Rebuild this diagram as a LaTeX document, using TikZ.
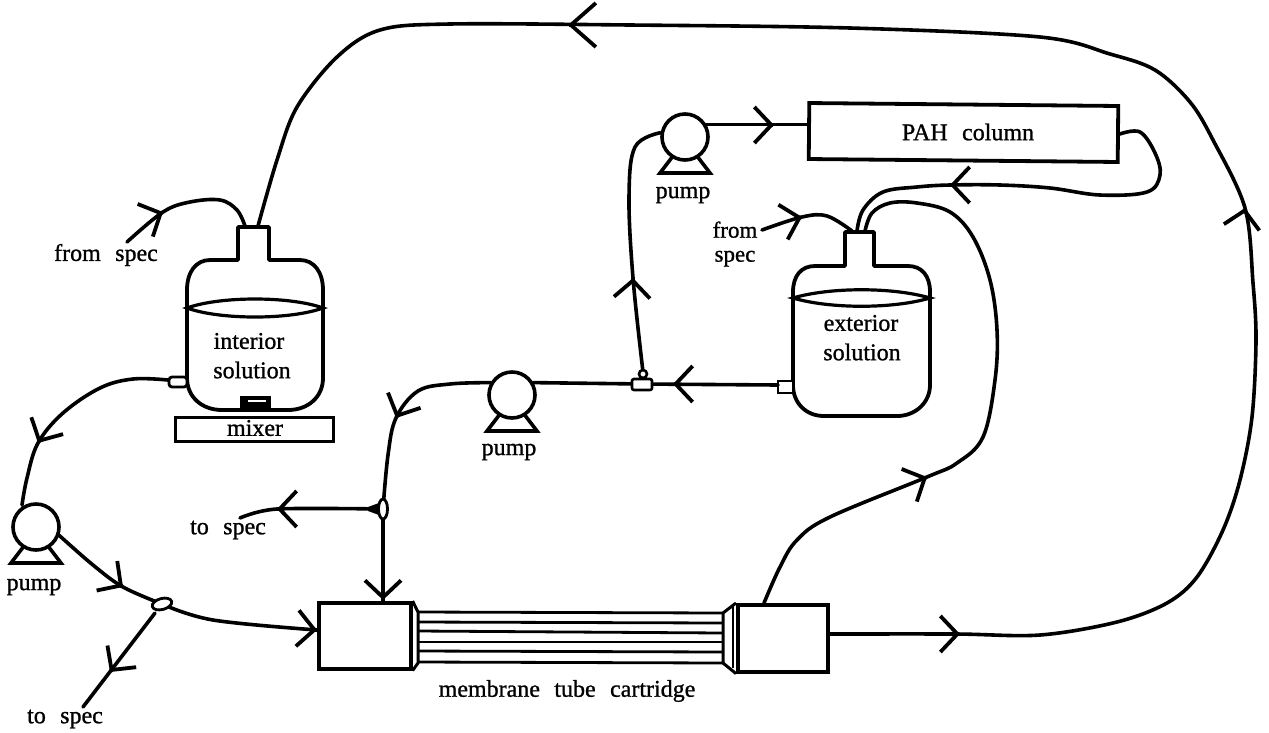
\documentclass[tikz,border=0pt]{standalone}
\usepackage{fontspec}
\setmainfont{Liberation Serif}
\newfontfamily\lblfont[FakeBold=1]{Liberation Serif}
\usetikzlibrary{arrows.meta,calc}
\tikzset{
  wire/.style={line width=3.6pt,line cap=round,line join=round},
  vessel/.style={line width=3.8pt,line join=round,fill=white},
  thinline/.style={line width=2.8pt},
  barbtip/.style={line width=3.8pt,-{Straight Barb[length=17pt,width=36pt,line width=3.8pt]}},
  barbbig/.style={line width=3.8pt,-{Straight Barb[length=25pt,width=44pt,line width=3.8pt]}},
  lbl/.style={font=\lblfont\fontsize{24}{26}\selectfont,inner sep=0pt,align=center},
  pumpbody/.style={circle,draw,line width=3.6pt,fill=white,minimum size=#1,inner sep=0pt}
}
\newcommand{\barbat}[2]{\draw[barbtip] (#1) ++(#2:-1) -- (#1);}
\newcommand{\pumpfeet}[1]{\draw[line width=3.6pt,line join=miter] ($(#1)+(-12,19)$) -- ($(#1)+(-25,36)$) -- ($(#1)+(25,36)$) -- ($(#1)+(12,19)$);}
\begin{document}
\begin{tikzpicture}[x=1pt,y=-1pt]
\useasboundingbox (0,0) rectangle (1269,732);
\fill[white] (0,0) rectangle (1269,732);

% named end points
\coordinate (neckA) at (258,226);
\coordinate (neckAl) at (245,226);
\coordinate (neckB) at (852,231);
\coordinate (neckBm) at (857,231);
\coordinate (neckBr) at (865,231);
\coordinate (fromA) at (127,242);
\coordinate (fromB) at (762,230);
\coordinate (toA) at (240,518);
\coordinate (toB) at (83,707);
\coordinate (portA) at (168,380);
\coordinate (portB) at (778,385);
\coordinate (teeB) at (642,384);
\coordinate (teeC) at (383,509);
\coordinate (teeD) at (162,604);

% pumps
\node[pumpbody=46pt] (pumpA) at (36,527) {};
\node[pumpbody=46pt] (pumpB) at (685,137) {};
\node[pumpbody=46pt] (pumpC) at (512,395) {};
\pumpfeet{pumpA}\pumpfeet{pumpB}\pumpfeet{pumpC}

% column
\node[draw,line width=3.8pt,minimum width=309pt,minimum height=56pt,inner sep=0pt,rotate=-0.55] (column) at (963.5,132.5) {};
\node[lbl] (columnlbl) at (968,132) {PAH\hspace{0.6em}column};

% cartridge
\node[draw,line width=3.6pt,minimum width=92pt,minimum height=66pt,inner sep=0pt,anchor=north west] (cartL) at (317,601) {};
\node[draw,line width=3.6pt,minimum width=90pt,minimum height=67pt,inner sep=0pt,anchor=north west] (cartR) at (736,603) {};
\draw[line width=3pt,line join=round] (cartL.north east) -- (418,612) -- (418,663) -- (cartL.south east);
\draw[line width=3pt,line join=round] (cartR.north west) -- (723,613) -- (723,663) -- (cartR.south west);
\draw[line width=2.6pt] (733,606) -- (733,668);
\foreach \ya/\yb in {612/613,622/623,631/633,642/642,651/652,662/663}
  \draw[thinline] (418,\ya) -- (723,\yb);
\node[lbl] (cartlbl) at (567,691) {membrane\hspace{0.6em}tube\hspace{0.6em}cartridge};

% interior bottle
\draw[vessel] (238,227) -- (269,227) -- (269,260) -- (300,260)
  .. controls (314,260) and (323,272) .. (323,290) -- (323,378)
  .. controls (323,397) and (308,410) .. (288,410) -- (222,410)
  .. controls (202,410) and (187,397) .. (187,378) -- (187,290)
  .. controls (187,272) and (196,260) .. (210,260) -- (238,260) -- cycle;
\draw[line width=3.2pt] (187,308) .. controls (220,296) and (290,296) .. (323,308) .. controls (290,320) and (220,320) .. cycle;
\fill (240,396) rectangle (271,409);
\draw[white,line width=1.3pt] (248,401) -- (266,401);
\node[lbl] (intA) at (249,341) {interior};
\node[lbl] (intB) at (252,370) {solution};
\node[draw,line width=3.2pt,minimum width=158pt,minimum height=24pt,inner sep=0pt,anchor=north west] (mixer) at (174,416) {};
\node[lbl] (mixerlbl) at (255,428) {mixer};
\draw[line width=2.8pt,fill=white,rounded corners=3pt] (169,377) rectangle (187,387);

% exterior bottle
\draw[vessel] (845,232) -- (874,232) -- (874,266) -- (908,266)
  .. controls (922,266) and (930,276) .. (930,292) -- (930,385)
  .. controls (930,403) and (915,416) .. (897,416) -- (824,416)
  .. controls (806,416) and (793,403) .. (793,385) -- (793,292)
  .. controls (793,276) and (801,266) .. (815,266) -- (845,266) -- cycle;
\draw[line width=3.2pt] (793,298) .. controls (830,287) and (893,287) .. (930,298) .. controls (893,309) and (830,309) .. cycle;
\node[lbl] (extA) at (861,323) {exterior};
\node[lbl] (extB) at (862,352) {solution};
\draw[line width=2.8pt,fill=white] (778,381) rectangle (793,393);

% wires
\draw[wire] plot[smooth,tension=0.55] coordinates {(cartR.east |- 0,634) (955,634) (1040,635) (1117,622) (1167,603) (1197,577) (1223,530) (1240,480) (1252,417) (1256,340) (1253,283) (1245,208) (1213,140) (1190,102) (1155,70) (1110,54) (1040,37) (850,28) (630,25) (450,24) (380,30) (337,57) (297,107) (277,160) (neckA)};
\draw[wire] plot[smooth,tension=0.6] coordinates {(fromA) (163,212) (190,202) (220,200) (237,210) (neckAl)};
\draw[wire] plot[smooth,tension=0.6] coordinates {(portA) (133,379) (100,388) (63,413) (38,443) (27,478) (22,505)};
\draw[wire] plot[smooth,tension=0.6] coordinates {(pumpA.-20) (93,565) (123,587) (teeD)};
\draw[wire] plot[smooth,tension=0.6] coordinates {(teeD) (213,620) (317,630)};
\draw[wire] (155,613) -- (toB);
\draw[wire] plot[smooth,tension=0.6] coordinates {(pumpC.150) (450,384) (418,391) (396,418) (388,455) (teeC)};
\draw[wire] (teeC) -- (383,601);
\draw[wire] plot[smooth,tension=0.5] coordinates {(teeC) (277,509) (toA)};
\draw[wire] (portB) -- (teeB) -- (pumpC.30);
\draw[wire] plot[smooth,tension=0.6] coordinates {(643,372) (633,278) (629,197) (635,147) (pumpB.170)};
\draw[wire] (pumpB.30) -- (column.west |- pumpB.30);
\draw[wire] plot[smooth,tension=0.6] coordinates {(column.east) (1140,132) (1155,153) (1160,175) (1147,192) (1100,195) (1050,188) (1000,185) (950,185) (917,187) (883,192) (863,210) (neckBm)};
\draw[wire] plot[smooth,tension=0.6] coordinates {(764,603) (780,567) (797,540) (830,517) (927,477) (957,463) (983,437) (995,380) (997,330) (990,280) (973,237) (950,212) (917,203) (890,203) (872,213) (neckBr)};
\draw[wire] plot[smooth,tension=0.6] coordinates {(fromB) (802,217) (827,216) (neckB)};

% fittings
\draw[line width=2.8pt,fill=white,rotate around={15:(teeD)}] (teeD) ellipse [x radius=10,y radius=5.5];
\draw[line width=2.8pt,fill=white] (teeC) ellipse [x radius=4.5,y radius=10];
\fill (368,507) -- (379,503) -- (379,515) -- (368,511) -- cycle;
\draw[line width=2.6pt,fill=white] (643,374) circle [radius=4];
\draw[line width=2.6pt,fill=white,rounded corners=2pt] (632,379) rectangle (652,390);

% arrowheads
\draw[barbbig] (568,25) ++(1,0) -- (568,25);
\draw[barbtip] (1245,208) ++(100:1) -- (1245,208);
\barbat{960,634}{0}
\barbat{163,212}{-25}
\barbat{38,443}{118}
\barbat{123,587}{35}
\barbat{110,672}{127}
\barbat{317,630}{5}
\barbat{383,600}{90}
\barbat{277,509}{180}
\barbat{396,418}{115}
\barbat{673,384}{180}
\barbat{633,278}{273}
\barbat{774,125}{0}
\barbat{950,185}{180}
\barbat{802,217}{-15}
\barbat{927,477}{-25}

% labels
\node[lbl] (lfromA) at (106,255) {from\hspace{0.6em}spec};
\node[lbl] (ltoC) at (228,530) {to\hspace{0.6em}spec};
\node[lbl] (ltoD) at (65,719) {to\hspace{0.6em}spec};
\node[lbl] (lpumpA) at (34,587) {pump};
\node[lbl] (lpumpB) at (683,195) {pump};
\node[lbl] (lpumpC) at (509,452) {pump};
\node[lbl,font=\lblfont\fontsize{23}{24}\selectfont] (lfromB) at (735,244) {from\\spec};
\end{tikzpicture}
\end{document}
